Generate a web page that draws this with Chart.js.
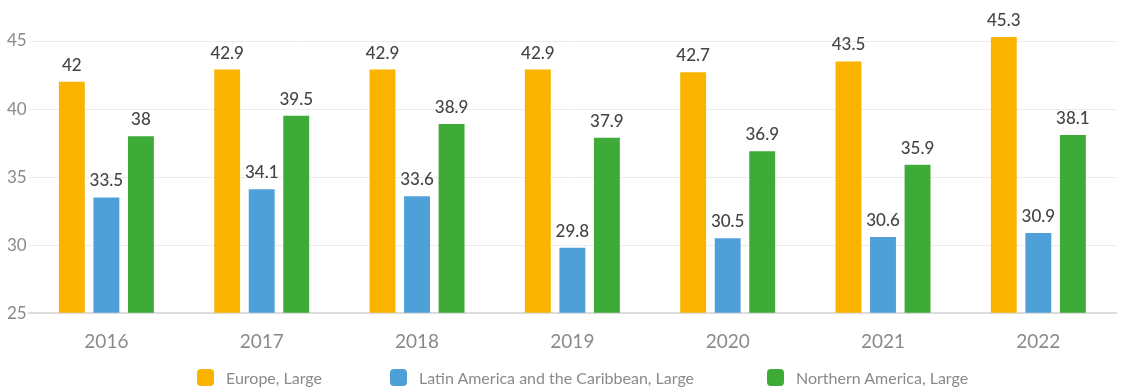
<!DOCTYPE html>
<html>
<head>
<meta charset="utf-8">
<script src="https://cdn.jsdelivr.net/npm/chart.js@4/dist/chart.umd.min.js"></script>
<style>
  html, body { margin: 0; padding: 0; background: #fff; }
  #wrap { position: relative; width: 1121px; height: 391px; }
  #c { position: absolute; left: 0; top: 0; }
  .lg { position: absolute; top: 369px; height: 17px; display: flex; align-items: center;
        font-family: Lato, "Open Sans", sans-serif; font-size: 16px; color: #8a8a8a; white-space: nowrap; }
  .lg i { display: inline-block; width: 17px; height: 17px; border-radius: 4px; margin-right: 12px; }
</style>
</head>
<body>
<div id="wrap">
  <canvas id="c" width="1121" height="391"></canvas>
  <div id="legend"></div>
</div>
<script>
const categories = ["2016", "2017", "2018", "2019", "2020", "2021", "2022"];
const seriesNames = ["Europe, Large", "Latin America and the Caribbean, Large", "Northern America, Large"];
const europe = [42, 42.9, 42.9, 42.9, 42.7, 43.5, 45.3];
const latinAmerica = [33.5, 34.1, 33.6, 29.8, 30.5, 30.6, 30.9];
const northernAmerica = [38, 39.5, 38.9, 37.9, 36.9, 35.9, 38.1];
const yTicks = [25, 30, 35, 40, 45];
const colors = ["#FAB400", "#4FA0D8", "#3EAA38"];

const seriesValues = [europe, latinAmerica, northernAmerica];

const valueLabels = {
  id: 'valueLabels',
  afterDatasetsDraw(chart) {
    const ctx = chart.ctx;
    ctx.save();
    ctx.font = '500 17px Lato, "Open Sans", sans-serif';
    ctx.fillStyle = '#444';
    ctx.textAlign = 'center';
    ctx.textBaseline = 'bottom';
    chart.data.datasets.forEach((ds, i) => {
      const meta = chart.getDatasetMeta(i);
      meta.data.forEach((bar, j) => {
        ctx.fillText(String(ds.data[j]), bar.x, bar.y - 8);
      });
    });
    ctx.restore();
  }
};

new Chart(document.getElementById('c'), {
  type: 'bar',
  data: {
    labels: categories,
    datasets: seriesValues.map((vals, i) => ({
      label: seriesNames[i],
      data: vals,
      base: yTicks[0],
      backgroundColor: colors[i],
      borderWidth: 0,
      categoryPercentage: 0.667,
      barPercentage: 0.75,
      clip: false
    }))
  },
  options: {
    responsive: false,
    animation: false,
    layout: { padding: { top: 41, right: 5, bottom: 21, left: 5 } },
    plugins: { legend: { display: false }, tooltip: { enabled: false } },
    scales: {
      x: {
        grid: { display: false, drawTicks: false },
        border: { color: '#dcdcdc', width: 2 },
        ticks: { color: '#8a8a8a', font: { family: 'Lato, "Open Sans", sans-serif', size: 19 }, padding: 17 }
      },
      y: {
        min: 25, max: 45,
        afterBuildTicks(scale) { scale.ticks = yTicks.map(v => ({ value: v })); },
        grid: { color: '#ececec', lineWidth: 1, drawTicks: false },
        border: { display: false },
        ticks: { color: '#8a8a8a', font: { family: 'Lato, "Open Sans", sans-serif', size: 17 }, padding: 2 }
      }
    }
  },
  plugins: [valueLabels]
});

const legendLefts = [197, 390, 767];
const legend = document.getElementById('legend');
seriesNames.forEach((name, i) => {
  const d = document.createElement('div');
  d.className = 'lg';
  d.style.left = legendLefts[i] + 'px';
  const box = document.createElement('i');
  box.style.background = colors[i];
  d.appendChild(box);
  d.appendChild(document.createTextNode(name));
  legend.appendChild(d);
});
</script>
</body>
</html>
